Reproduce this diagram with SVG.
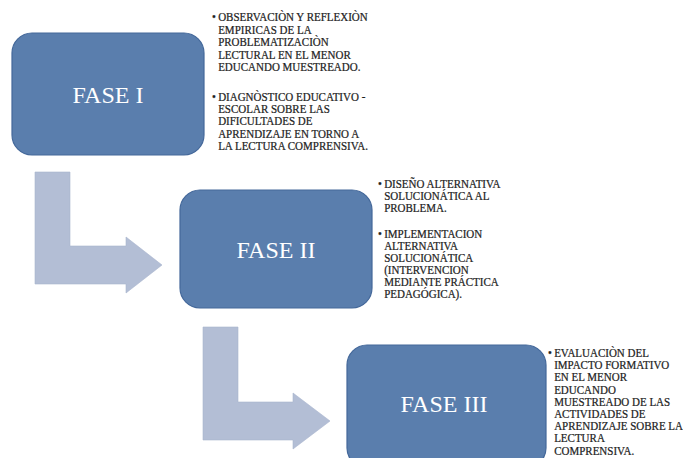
<svg xmlns="http://www.w3.org/2000/svg" width="683" height="458" viewBox="0 0 683 458">
<style>
.box{fill:#5A7EAD;stroke:#44689A;stroke-width:1.2}
.arrow{fill:#B3BED5;stroke:#A9B5CE;stroke-width:0.6}
.fase{font-family:"Liberation Serif","Times New Roman",serif;font-size:24px;fill:#FFFFFF;text-anchor:middle}
.bt{font-family:"Liberation Serif","Times New Roman",serif;font-size:12.5px;fill:#1E1E1E;stroke:#1E1E1E;stroke-width:0.25}
</style>
<rect width="683" height="458" fill="#FFFFFF"/>
<g id="connectors">
<path class="arrow" d="M35,172 L70,172 L70,246 L126,246 L126,237 L162,265 L126,293 L126,284 L35,284 Z"/>
<path class="arrow" d="M203,327 L238,327 L238,402 L293,402 L293,393 L330,421 L293,449 L293,440 L203,440 Z"/>
</g>
<g id="fase1">
<rect class="box" x="12" y="33" width="192" height="122" rx="20"/>
<text class="fase" x="108" y="103">FASE I</text>
</g>
<g id="fase2">
<rect class="box" x="180" y="190" width="192" height="118" rx="20"/>
<text class="fase" x="276" y="258">FASE II</text>
</g>
<g id="fase3">
<rect class="box" x="347" y="345" width="199" height="123" rx="20"/>
<text class="fase" x="444" y="412">FASE III</text>
</g>
<g id="text1" transform="translate(212,0) scale(0.88,1)">
<text class="bt" x="0" y="21">•</text>
<text class="bt" y="21"><tspan x="7">OBSERVACIÒN Y REFLEXIÒN</tspan><tspan x="7" dy="12.6">EMPIRICAS DE LA</tspan><tspan x="7" dy="12.6">PROBLEMATIZACIÒN</tspan><tspan x="7" dy="12.6">LECTURAL EN EL MENOR</tspan><tspan x="7" dy="12.6">EDUCANDO MUESTREADO.</tspan></text>
<text class="bt" x="0" y="101">•</text>
<text class="bt" y="101"><tspan x="7">DIAGNÒSTICO EDUCATIVO -</tspan><tspan x="7" dy="12.2">ESCOLAR SOBRE  LAS</tspan><tspan x="7" dy="12.2">DIFICULTADES DE</tspan><tspan x="7" dy="12.2">APRENDIZAJE EN TORNO A</tspan><tspan x="7" dy="12.2">LA LECTURA COMPRENSIVA.</tspan></text>
</g>
<g id="text2" transform="translate(378,0) scale(0.88,1)">
<text class="bt" x="0" y="188">•</text>
<text class="bt" y="188"><tspan x="7">DISEÑO ALTERNATIVA</tspan><tspan x="7" dy="12">SOLUCIONÁTICA AL</tspan><tspan x="7" dy="12">PROBLEMA.</tspan></text>
<text class="bt" x="0" y="238">•</text>
<text class="bt" y="238"><tspan x="7">IMPLEMENTACION</tspan><tspan x="7" dy="12">ALTERNATIVA</tspan><tspan x="7" dy="12">SOLUCIONÁTICA</tspan><tspan x="7" dy="12">(INTERVENCION</tspan><tspan x="7" dy="12">MEDIANTE PRÁCTICA</tspan><tspan x="7" dy="12">PEDAGÓGICA).</tspan></text>
</g>
<g id="text3" transform="translate(548,0) scale(0.88,1)">
<text class="bt" x="0" y="357">•</text>
<text class="bt" y="357"><tspan x="7">EVALUACIÒN DEL</tspan><tspan x="7" dy="12.2">IMPACTO FORMATIVO</tspan><tspan x="7" dy="12.2">EN EL MENOR</tspan><tspan x="7" dy="12.2">EDUCANDO</tspan><tspan x="7" dy="12.2">MUESTREADO DE LAS</tspan><tspan x="7" dy="12.2">ACTIVIDADES DE</tspan><tspan x="7" dy="12.2">APRENDIZAJE SOBRE LA</tspan><tspan x="7" dy="12.2">LECTURA</tspan><tspan x="7" dy="12.6">COMPRENSIVA.</tspan></text>
</g>
</svg>
